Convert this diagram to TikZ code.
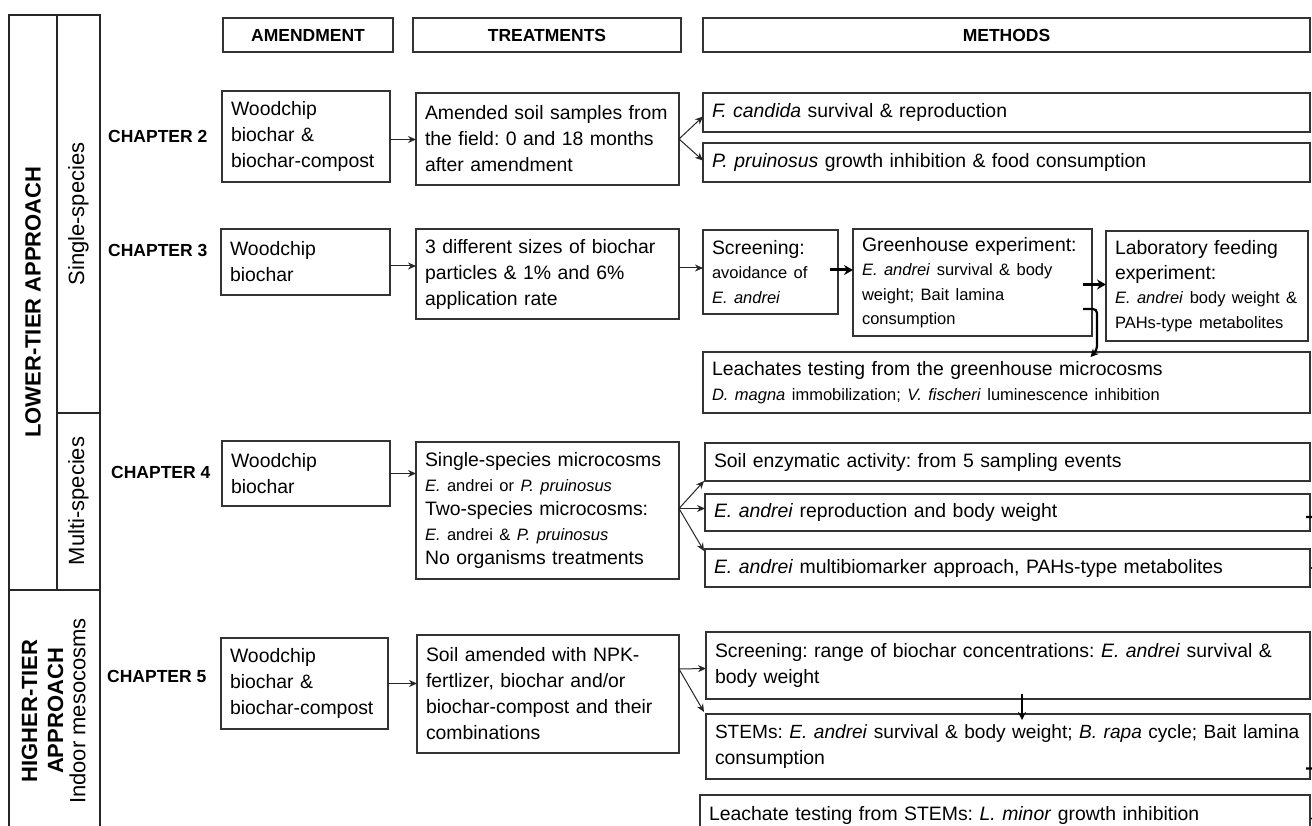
\documentclass[tikz,border=0pt]{standalone}
\usepackage{fontspec}
\setmainfont{Liberation Sans}
\usetikzlibrary{arrows.meta}
\frenchspacing
\hyphenpenalty=10000
\exhyphenpenalty=10000
\hfuzz=20pt
\newcommand\sm{\fontsize{16.5}{24}\selectfont}
\newcommand\mybox[6][]{%
  \pgfmathsetmacro\bxw{#4-#2}%
  \pgfmathsetmacro\bxh{#5-#3}%
  \pgfmathsetmacro\bxt{#4-#2-18}%
  \node[box, minimum width=\bxw pt, minimum height=\bxh pt, text width=\bxt pt, #1] (#6) at (#2,-#3)}
\begin{document}
\begin{tikzpicture}[x=1pt,y=1pt,
  box/.style={draw=black!80, line width=1.2pt, anchor=north west, align=left,
    inner xsep=9pt, inner ysep=0pt, outer sep=0pt,
    font=\fontsize{19.4}{26}\selectfont},
  mixed/.style={font=\fontsize{19.4}{24.5}\selectfont},
  hdr/.style={draw=black!80, line width=1.2pt, anchor=north west, align=center,
    inner sep=0pt, outer sep=0pt, font=\fontsize{17.5}{20}\selectfont\bfseries},
  chap/.style={anchor=west, inner sep=0pt, font=\fontsize{17.5}{20}\selectfont\bfseries},
  sidel/.style={line width=1.2pt, draw=black!85},
  sidebold/.style={rotate=90, inner sep=0pt, align=center, font=\fontsize{22}{23}\selectfont\bfseries},
  sidereg/.style={rotate=90, inner sep=0pt, font=\fontsize{22}{24}\selectfont},
  arr/.style={line width=1pt, draw=black!85, -{Stealth[length=8pt,width=7pt]}},
  tarr/.style={line width=3pt, -{Stealth[length=9pt,width=10pt]}},
  marr/.style={line width=2.2pt, -{Stealth[length=8pt,width=8pt]}}
]
\useasboundingbox (0,0) rectangle (1312,-826);
\clip (0,0) rectangle (1312,-826);
\fill[white] (0,0) rectangle (1312,-826);

% side bar
\draw[sidel] (9,-15) rectangle (100,-850);
\draw[sidel] (57,-15) -- (57,-590);
\draw[sidel] (57,-413) -- (100,-413);
\draw[sidel] (9,-590) -- (100,-590);
\node[sidebold] (lower) at (33,-302) {LOWER-TIER APPROACH};
\node[sidereg] (single) at (78.5,-214) {Single-species};
\node[sidereg] (multi) at (78.5,-501) {Multi-species};
\node[sidebold] (higher) at (42.5,-711) {HIGHER-TIER\\[3pt]APPROACH};
\node[sidereg] (indoor) at (77.5,-711) {Indoor mesocosms};

% headers
\node[hdr, minimum width=170pt, minimum height=34pt] (hA) at (223,-18) {AMENDMENT};
\node[hdr, minimum width=268pt, minimum height=34pt] (hT) at (413,-18) {TREATMENTS};
\node[hdr, minimum width=607pt, minimum height=34pt] (hM) at (703,-18) {METHODS};

% chapters
\node[chap] (c2) at (108,-136) {CHAPTER 2};
\node[chap] (c3) at (108,-250) {CHAPTER 3};
\node[chap] (c4) at (111,-472) {CHAPTER 4};
\node[chap] (c5) at (107,-676) {CHAPTER 5};

% chapter 2
\mybox{222}{91}{390}{182}{a2} {Woodchip\\biochar \&\\biochar-compost};
\mybox{416}{93}{679}{185}{t2} {Amended soil samples from\\the field: 0 and 18 months\\after amendment};
\mybox{703}{93}{1310}{132}{m2a} {\textit{F. candida} survival \& reproduction};
\mybox{703}{143}{1310}{182}{m2b} {\textit{P. pruinosus} growth inhibition \& food consumption};

% chapter 3
\mybox{221}{229}{390}{295}{a3} {Woodchip\\biochar};
\mybox{416}{229}{679}{319}{t3} {3 different sizes of biochar\\particles \& 1\% and 6\%\\application rate};
\mybox[mixed]{703}{230}{838}{314}{scr} {Screening:\\{\sm avoidance of}\\{\sm\textit{E. andrei}}};
\mybox[mixed]{853}{229}{1092}{336}{gh} {Greenhouse experiment:\\{\sm\textit{E. andrei} survival \& body}\\{\sm weight; Bait lamina}\\{\sm consumption}};
\mybox[mixed]{1106}{231}{1308}{341}{lab} {Laboratory feeding\\experiment:\\{\sm\textit{E. andrei} body weight \&}\\{\sm PAHs-type metabolites}};
\mybox[mixed]{703}{352}{1310}{413}{leach} {Leachates testing from the greenhouse microcosms\\{\sm\textit{D. magna} immobilization; \textit{V. fischeri} luminescence inhibition}};

% chapter 4
\mybox{222}{441}{390}{506}{a4} {Woodchip\\biochar};
\mybox[mixed]{416}{442}{679}{579}{t4} {Single-species microcosms\\{\sm\textit{E.} andrei or \textit{P. pruinosus}}\\Two-species microcosms:\\{\sm\textit{E.} andrei \& \textit{P. pruinosus}}\\No organisms treatments};
\mybox{705}{443}{1310}{481}{e1} {Soil enzymatic activity: from 5 sampling events};
\mybox{705}{494}{1310}{531}{e2} {\textit{E. andrei} reproduction and body weight};
\mybox{705}{549}{1310}{587}{e3} {\textit{E. andrei} multibiomarker approach, PAHs-type metabolites};

% chapter 5
\mybox{221}{638}{388}{729}{a5} {Woodchip\\biochar \&\\biochar-compost};
\mybox{417}{635}{679}{753}{t5} {Soil amended with NPK-\\fertlizer, biochar and/or\\biochar-compost and their\\combinations};
\mybox{706}{632}{1310}{699}{s5} {Screening: range of biochar concentrations: \textit{E. andrei} survival \&\\body weight};
\mybox[inner xsep=8pt]{706}{714}{1310}{779}{st} {\mbox{\fontsize{19.1}{26}\selectfont STEMs: \textit{E. andrei} survival \& body weight; \textit{B. rapa} cycle; Bait lamina}\\consumption};
\mybox{700}{795}{1310}{836}{lst} {Leachate testing from STEMs: \textit{L. minor} growth inhibition};

% connectors chapter 2
\draw[arr] ([yshift=-3pt]a2.east) -- ([yshift=-3pt]a2.east -| t2.west);
\draw[arr] (t2.east) -- ([yshift=-4pt]m2a.west);
\draw[arr] (t2.east) -- ([yshift=2pt]m2b.west);

% connectors chapter 3
\draw[arr] ([yshift=-4pt]a3.east) -- ([yshift=-4pt]a3.east -| t3.west);
\draw[arr] ([yshift=4pt]scr.west -| t3.east) -- ([yshift=4pt]scr.west);
\draw[tarr] ([xshift=-8pt,yshift=2pt]scr.east) -- ([yshift=2pt]scr.east -| gh.west);
\draw[tarr] ([xshift=-9pt,yshift=-2pt]gh.east) -- ([yshift=-2pt]gh.east -| lab.west);
\coordinate (hk) at (1083,-309);
\draw[marr, rounded corners=4pt] (hk) -- (1097,-309) -- (1097,-350) -- ([xshift=84pt,yshift=-5pt]leach.north);

% connectors chapter 4
\draw[arr] (a4.east) -- (a4.east -| t4.west);
\draw[arr] ([yshift=2pt]t4.east) -- ([xshift=-1pt]e1.south west);
\draw[arr] ([yshift=2pt]t4.east) -- ([yshift=4pt]e2.west);
\draw[arr] ([yshift=2pt]t4.east) -- ([xshift=-1pt,yshift=-2pt]e3.north west);
\coordinate (r4) at (1330,-540);
\draw[marr, rounded corners=3pt] ([xshift=-4pt,yshift=-4.5pt]e2.east) -| (r4) |- (e3.east);

% connectors chapter 5
\draw[arr] (a5.east) -- (a5.east -| t5.west);
\draw[arr] ([yshift=25pt]t5.east) -- ([yshift=-3pt]s5.west);
\draw[arr] ([yshift=25pt]t5.east) -- ([xshift=-2pt,yshift=2pt]st.north west);
\draw[marr] ([xshift=14pt,yshift=5pt]s5.south) -- ([xshift=14pt,yshift=-6pt]st.north);
\coordinate (r5) at (1330,-790);
\draw[marr, rounded corners=3pt] ([xshift=-4pt,yshift=-22pt]st.east) -| (r5) |- ([yshift=-3pt]lst.east);
\end{tikzpicture}
\end{document}
